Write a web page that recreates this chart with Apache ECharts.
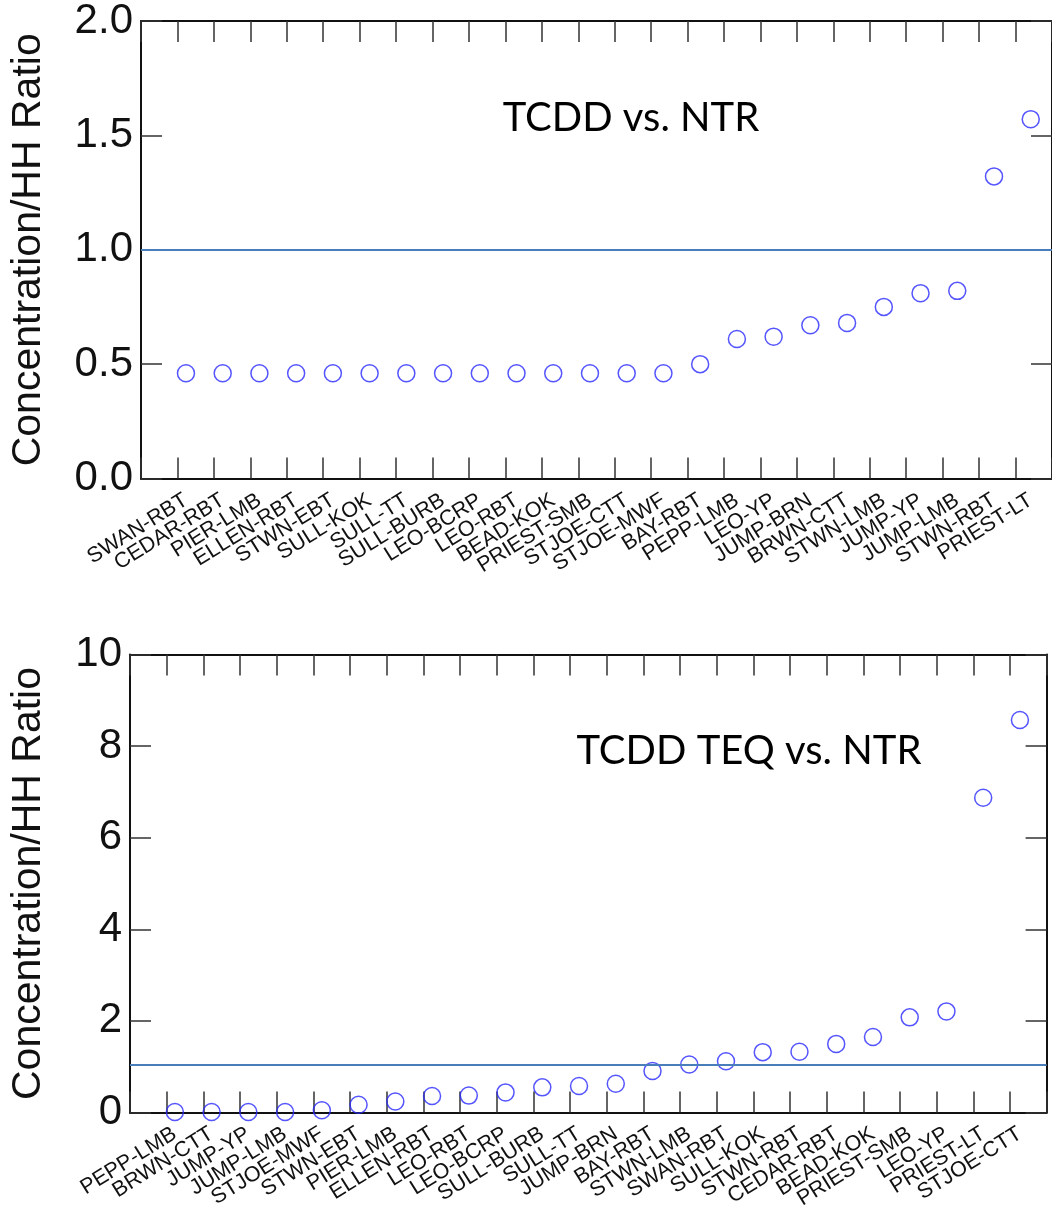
<!DOCTYPE html>
<html>
<head>
<meta charset="utf-8">
<title>Concentration / HH Ratio</title>
<script src="https://cdn.jsdelivr.net/npm/echarts@6/dist/echarts.min.js"></script>
<style>
  html, body { margin: 0; padding: 0; background: #ffffff; overflow: hidden; }
  #chart { width: 1052px; height: 1212px; }
</style>
</head>
<body>
<div id="chart"></div>
<script>
// Upper panel: TCDD vs. NTR
const tcddSites = ['SWAN-RBT', 'CEDAR-RBT', 'PIER-LMB', 'ELLEN-RBT', 'STWN-EBT', 'SULL-KOK',
  'SULL-TT', 'SULL-BURB', 'LEO-BCRP', 'LEO-RBT', 'BEAD-KOK', 'PRIEST-SMB', 'STJOE-CTT',
  'STJOE-MWF', 'BAY-RBT', 'PEPP-LMB', 'LEO-YP', 'JUMP-BRN', 'BRWN-CTT', 'STWN-LMB',
  'JUMP-YP', 'JUMP-LMB', 'STWN-RBT', 'PRIEST-LT'];
const tcddRatio = [0.46, 0.46, 0.46, 0.46, 0.46, 0.46, 0.46, 0.46, 0.46, 0.46, 0.46, 0.46,
  0.46, 0.46, 0.50, 0.61, 0.62, 0.67, 0.68, 0.75, 0.81, 0.82, 1.32, 1.57];
const tcddTicks = [0, 0.5, 1.0, 1.5, 2.0];
const tcddRef = 1.0;

// Lower panel: TCDD TEQ vs. NTR
const teqSites = ['PEPP-LMB', 'BRWN-CTT', 'JUMP-YP', 'JUMP-LMB', 'STJOE-MWF', 'STWN-EBT',
  'PIER-LMB', 'ELLEN-RBT', 'LEO-RBT', 'LEO-BCRP', 'SULL-BURB', 'SULL-TT', 'JUMP-BRN',
  'BAY-RBT', 'STWN-LMB', 'SWAN-RBT', 'SULL-KOK', 'STWN-RBT', 'CEDAR-RBT', 'BEAD-KOK',
  'PRIEST-SMB', 'LEO-YP', 'PRIEST-LT', 'STJOE-CTT'];
const teqRatio = [0.00, 0.00, 0.00, 0.00, 0.04, 0.16, 0.23, 0.35, 0.36, 0.43, 0.54, 0.57,
  0.62, 0.90, 1.04, 1.11, 1.31, 1.32, 1.49, 1.64, 2.07, 2.20, 6.87, 8.57];
const teqTicks = [0, 2, 4, 6, 8, 10];
const teqRef = 1.05;

const panelTitles = ['TCDD vs. NTR', 'TCDD TEQ vs. NTR'];
const yTitle = 'Concentration/HH Ratio';

const SANS = '"Liberation Sans", Arial, Helvetica, sans-serif';
const TITLE_FONT = 'Lato, "Open Sans", sans-serif';
const INK = '#111111';
const TICK = '#333333';
const MARK = '#2a2aff';
const REF = '#4a7ebb';

// frame: value axes carrying the box and inward ticks; data: category axes carrying the sites
function frameAxes(gridIndex, ticks, digits) {
  const lo = ticks[0], hi = ticks[ticks.length - 1], step = ticks[1] - ticks[0];
  const line = { show: true, onZero: false, lineStyle: { color: INK, width: 2 } };
  const tick = { show: true, inside: true, length: 21, lineStyle: { color: TICK, width: 1.5 } };
  return {
    x: [
      { type: 'value', gridIndex, position: 'bottom', min: 0, max: 25, interval: 1,
        axisLine: line, axisTick: tick, axisLabel: { show: false }, splitLine: { show: false } },
      { type: 'value', gridIndex, position: 'top', min: 0, max: 25, interval: 1,
        axisLine: line, axisTick: tick, axisLabel: { show: false }, splitLine: { show: false } }
    ],
    y: [
      { type: 'value', gridIndex, position: 'left', min: lo, max: hi, interval: step,
        axisLine: line, axisTick: tick, splitLine: { show: false },
        name: yTitle, nameLocation: 'middle', nameRotate: 90, nameGap: 92,
        nameTextStyle: { fontFamily: SANS, fontSize: 41, color: INK },
        axisLabel: { margin: 8, fontFamily: SANS, fontSize: 42, color: INK,
          formatter: v => v.toFixed(digits) } },
      { type: 'value', gridIndex, position: 'right', min: lo, max: hi, interval: step,
        axisLine: line, axisTick: tick, axisLabel: { show: false }, splitLine: { show: false } }
    ]
  };
}

function dataAxes(gridIndex, sites, ticks) {
  return {
    x: { type: 'category', gridIndex, data: sites, boundaryGap: true,
      axisLine: { show: false }, axisTick: { show: false }, splitLine: { show: false },
      axisLabel: { interval: 0, rotate: 32, margin: 20, fontFamily: SANS, fontSize: 21.5, color: INK } },
    y: { type: 'value', gridIndex, min: ticks[0], max: ticks[ticks.length - 1], show: false,
      splitLine: { show: false } }
  };
}

const topFrame = frameAxes(0, tcddTicks, 1);
const topData = dataAxes(1, tcddSites, tcddTicks);
const botFrame = frameAxes(2, teqTicks, 0);
const botData = dataAxes(3, teqSites, teqTicks);
botFrame.y[0].nameGap = 81;

const xAxis = [topFrame.x[0], topFrame.x[1], topData.x, botFrame.x[0], botFrame.x[1], botData.x];
const yAxis = [topFrame.y[0], topFrame.y[1], topData.y, botFrame.y[0], botFrame.y[1], botData.y];

function refSeries(xi, yi, value) {
  return {
    type: 'line', xAxisIndex: xi, yAxisIndex: yi, data: [], silent: true, z: 1,
    markLine: { silent: true, symbol: 'none', label: { show: false },
      lineStyle: { color: REF, width: 2, type: 'solid' }, data: [{ yAxis: value }] }
  };
}

function markSeries(xi, yi, values) {
  return {
    type: 'scatter', xAxisIndex: xi, yAxisIndex: yi, data: values, z: 3,
    symbol: 'circle', symbolSize: 17,
    itemStyle: { color: 'rgba(0,0,0,0)', borderColor: MARK, borderWidth: 1.5 }
  };
}

const option = {
  backgroundColor: '#ffffff',
  animation: false,
  grid: [
    { left: 139.3, right: -5.5, top: 20.7, bottom: 733.4, containLabel: false },
    { left: 167.6, right: 2.9, top: 20.7, bottom: 733.4, containLabel: false },
    { left: 128, right: 5.4, top: 654.5, bottom: 99.5, containLabel: false },
    { left: 156.5, right: 13.7, top: 654.5, bottom: 99.5, containLabel: false }
  ],
  xAxis,
  yAxis,
  graphic: [
    { type: 'text', x: 631, y: 118, silent: true,
      style: { text: panelTitles[0], fontFamily: TITLE_FONT, fontSize: 40, fill: '#000',
        align: 'center', verticalAlign: 'middle' } },
    { type: 'text', x: 749, y: 751, silent: true,
      style: { text: panelTitles[1], fontFamily: TITLE_FONT, fontSize: 40, fill: '#000',
        align: 'center', verticalAlign: 'middle' } }
  ],
  series: [
    refSeries(0, 0, tcddRef),
    markSeries(2, 2, tcddRatio),
    refSeries(3, 3, teqRef),
    markSeries(5, 5, teqRatio)
  ]
};

const chart = echarts.init(document.getElementById('chart'), null, { renderer: 'canvas' });
chart.setOption(option);
</script>
</body>
</html>
